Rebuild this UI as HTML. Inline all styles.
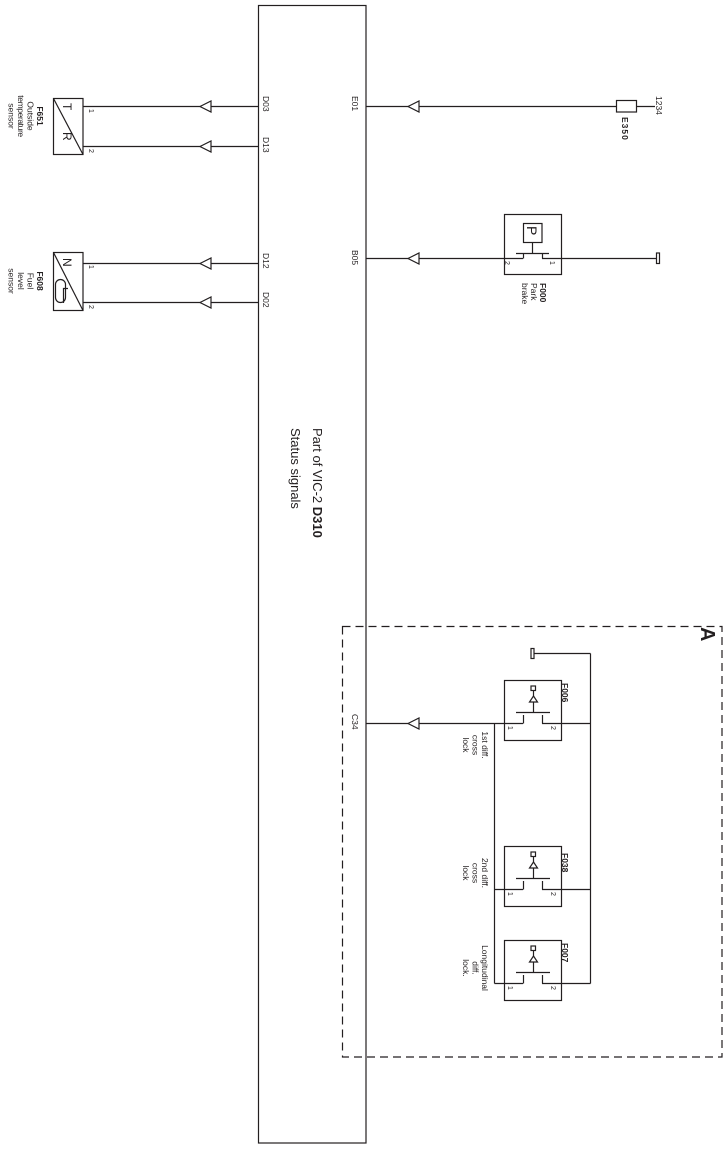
<!DOCTYPE html>
<html><head><meta charset="utf-8"><style>
html,body{margin:0;padding:0;background:#fff}
svg{display:block}
text{font-family:"Liberation Sans",Arial,sans-serif;fill:#231f20}
.s{font-size:8.5px}
.b{font-weight:bold}
</style></head><body>
<svg width="728" height="1149" viewBox="0 0 728 1149" xmlns="http://www.w3.org/2000/svg">
<g stroke="#231f20" stroke-width="1.2" fill="none">
<rect x="258.5" y="5.5" width="107.5" height="1137.5"/>
<rect x="342.5" y="626.5" width="379.5" height="430.5" stroke-dasharray="8,5"/>
<line x1="83" y1="106.5" x2="258" y2="106.5"/>
<line x1="83" y1="146.5" x2="258" y2="146.5"/>
<line x1="83" y1="263.5" x2="258" y2="263.5"/>
<line x1="83" y1="302.5" x2="258" y2="302.5"/>
<polygon points="200,106.5 211,101 211,112" fill="#fff"/>
<polygon points="200,146.5 211,141 211,152" fill="#fff"/>
<polygon points="200,263.5 211,258 211,269" fill="#fff"/>
<polygon points="200,302.5 211,297 211,308" fill="#fff"/>
<rect x="53.5" y="98.5" width="29.5" height="56"/>
<line x1="53.5" y1="98.5" x2="83" y2="154.5"/>
<rect x="53.5" y="252.5" width="29.5" height="58"/>
<line x1="53.5" y1="252.5" x2="83" y2="310.5"/>
<rect x="55.5" y="279.5" width="10" height="23" rx="5"/>
<path d="M68 288.5 H63.5 V303"/>
<line x1="366" y1="106.5" x2="655" y2="106.5"/>
<polygon points="408,106.5 419,101 419,112" fill="#fff"/>
<rect x="616.5" y="100.5" width="20" height="11.5" fill="#fff"/>
<line x1="366" y1="258.5" x2="523" y2="258.5"/>
<line x1="542" y1="258.5" x2="656" y2="258.5"/>
<polygon points="408,258.5 419,253 419,264" fill="#fff"/>
<rect x="656.5" y="253" width="3" height="10.5"/>
<rect x="504.5" y="214.5" width="57" height="60"/>
<rect x="523.5" y="223.5" width="18.5" height="19"/>
<line x1="532.5" y1="242.5" x2="532.5" y2="253"/>
<line x1="516" y1="253.5" x2="549" y2="253.5"/>
<line x1="523.5" y1="253.5" x2="523.5" y2="258.5"/>
<line x1="542.5" y1="253.5" x2="542.5" y2="258.5"/>
<line x1="366" y1="723.5" x2="523" y2="723.5"/>
<polygon points="408,723.5 419,718 419,729" fill="#fff"/>
<line x1="494.5" y1="723.5" x2="494.5" y2="983.5"/>
<line x1="590.5" y1="653.5" x2="590.5" y2="983.5"/>
<line x1="534" y1="653.5" x2="590.5" y2="653.5"/>
<rect x="531" y="648.5" width="3" height="10"/>
<line x1="542" y1="723.5" x2="590.5" y2="723.5"/>
<line x1="494.5" y1="889.5" x2="523" y2="889.5"/>
<line x1="542" y1="889.5" x2="590.5" y2="889.5"/>
<line x1="494.5" y1="983.5" x2="523" y2="983.5"/>
<line x1="542" y1="983.5" x2="590.5" y2="983.5"/>
<g id="sw">
<rect x="504.5" y="680.5" width="57" height="60"/>
<rect x="531" y="686" width="4.5" height="4.5"/>
<line x1="533.5" y1="690.5" x2="533.5" y2="712"/>
<polygon points="529.5,702 537.5,702 533.5,696" fill="#fff"/>
<line x1="516" y1="712.5" x2="550" y2="712.5"/>
<line x1="523.5" y1="715" x2="523.5" y2="723.5"/>
<line x1="542.5" y1="715" x2="542.5" y2="723.5"/>
</g>
<use href="#sw" y="166"/>
<use href="#sw" y="260"/>
</g>

<g class="s">
<text transform="translate(263,96) rotate(90)">D03</text>
<text transform="translate(263,137) rotate(90)">D13</text>
<text transform="translate(263,253) rotate(90)">D12</text>
<text transform="translate(263,292) rotate(90)">D02</text>
<text transform="translate(352,96) rotate(90)">E01</text>
<text transform="translate(352,250) rotate(90)">B05</text>
<text transform="translate(352,714) rotate(90)">C34</text>
<text transform="translate(89,109) rotate(90)" font-size="7">1</text>
<text transform="translate(89,149) rotate(90)" font-size="7">2</text>
<text transform="translate(89,265) rotate(90)" font-size="7">1</text>
<text transform="translate(89,305) rotate(90)" font-size="7">2</text>
<g text-anchor="middle">
<text class="b" transform="translate(37,116) rotate(90)">F651</text>
<text transform="translate(27.5,116) rotate(90)">Outside</text>
<text transform="translate(18,116) rotate(90)" letter-spacing="-0.4">temperature</text>
<text transform="translate(8.5,116) rotate(90)">sensor</text>
<text class="b" transform="translate(37,281) rotate(90)">F608</text>
<text transform="translate(27.5,281) rotate(90)">Fuel</text>
<text transform="translate(18,281) rotate(90)">level</text>
<text transform="translate(8.5,281) rotate(90)">sensor</text>
<text transform="translate(482,745) rotate(90)">1st diff.</text>
<text transform="translate(472.5,745) rotate(90)">cross</text>
<text transform="translate(463,745) rotate(90)">lock</text>
<text transform="translate(482,873) rotate(90)">2nd diff.</text>
<text transform="translate(472.5,873) rotate(90)">cross</text>
<text transform="translate(463,873) rotate(90)">lock</text>
<text transform="translate(482,968) rotate(90)">Longitudinal</text>
<text transform="translate(472.5,968) rotate(90)">diff.</text>
<text transform="translate(463,968) rotate(90)">lock.</text>
</g>
<text transform="translate(656,96) rotate(90)">1234</text>
<text class="b" transform="translate(622,117) rotate(90)" letter-spacing="1">E350</text>
<text class="b" transform="translate(540,283) rotate(90)">F000</text>
<text transform="translate(531,283) rotate(90)">Park</text>
<text transform="translate(522,283) rotate(90)">brake</text>
<text transform="translate(505,261) rotate(90)" font-size="7">2</text>
<text transform="translate(550,261) rotate(90)" font-size="7">1</text>
<text class="b" transform="translate(562,683) rotate(90)">F006</text>
<text class="b" transform="translate(562,853) rotate(90)">F038</text>
<text class="b" transform="translate(562,943) rotate(90)">F007</text>
<text transform="translate(508,726) rotate(90)" font-size="7">1</text>
<text transform="translate(551,726) rotate(90)" font-size="7">2</text>
<text transform="translate(508,892) rotate(90)" font-size="7">1</text>
<text transform="translate(551,892) rotate(90)" font-size="7">2</text>
<text transform="translate(508,986) rotate(90)" font-size="7">1</text>
<text transform="translate(551,986) rotate(90)" font-size="7">2</text>
</g>
<text transform="translate(63,103) rotate(90)" font-size="12">T</text>
<text transform="translate(63,132) rotate(90)" font-size="12">R</text>
<text transform="translate(63,258) rotate(90)" font-size="12">N</text>
<text transform="translate(527,226) rotate(90)" font-size="14">P</text>
<text transform="translate(313,428) rotate(90)" font-size="13">Part of VIC-2 <tspan font-weight="bold">D310</tspan></text>
<text transform="translate(291,428) rotate(90)" font-size="13">Status signals</text>
<text transform="translate(701,627) rotate(90)" font-size="20" font-weight="bold">A</text>
</svg>
</body></html>
